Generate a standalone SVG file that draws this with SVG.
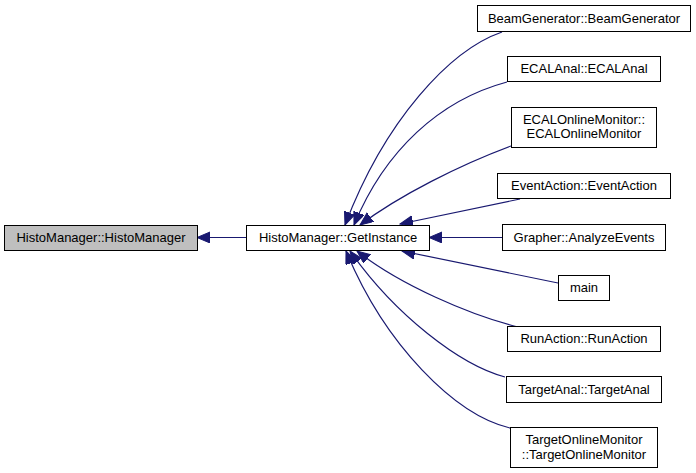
<svg xmlns="http://www.w3.org/2000/svg" width="696" height="473" viewBox="0 0 696 473">
<style>
.box{fill:#fff;stroke:#000;stroke-width:1}
.hl{fill:#bfbfbf}
text{font-family:"Liberation Sans",Arial,sans-serif;font-size:13px;text-anchor:middle;fill:#000}
.e{fill:none;stroke:#191970;stroke-width:1.2}
</style>
<defs>
<marker id="ah" markerUnits="userSpaceOnUse" markerWidth="14" markerHeight="12" refX="13" refY="5.5" orient="auto">
<polygon points="0,0 13,5.5 0,11" fill="#191970" stroke="#191970"/>
</marker>
</defs>
<g id="edges">
<path class="e" marker-end="url(#ah)" d="M246,237.5 L197,237.5"/>
<path class="e" marker-end="url(#ah)" d="M502,32 C450,50 385,120 345,225"/>
<path class="e" marker-end="url(#ah)" d="M507,82 C440,100 385,150 354,225"/>
<path class="e" marker-end="url(#ah)" d="M511,146 C460,165 400,195 360,225"/>
<path class="e" marker-end="url(#ah)" d="M520,199 L400,224"/>
<path class="e" marker-end="url(#ah)" d="M502,237.5 L429,237.5"/>
<path class="e" marker-end="url(#ah)" d="M558,283 L402,251"/>
<path class="e" marker-end="url(#ah)" d="M518,327 C470,315 400,285 357,251"/>
<path class="e" marker-end="url(#ah)" d="M505,377 C460,365 395,315 350,251"/>
<path class="e" marker-end="url(#ah)" d="M510,428 C455,415 385,345 346,251"/>
</g>
<g id="n_histomanager"><rect class="box hl" x="4.5" y="225.5" width="193" height="25"/><text x="101" y="242">HistoManager::HistoManager</text></g>
<g id="n_getinstance"><rect class="box" x="246.5" y="225.5" width="183" height="25"/><text x="338" y="242">HistoManager::GetInstance</text></g>
<g id="n_beam"><rect class="box" x="477.5" y="5.5" width="213" height="26"/><text x="584" y="23">BeamGenerator::BeamGenerator</text></g>
<g id="n_ecalanal"><rect class="box" x="507.5" y="56.5" width="153" height="25"/><text x="584" y="73">ECALAnal::ECALAnal</text></g>
<g id="n_ecalonline"><rect class="box" x="511.5" y="107.5" width="145" height="40"/><text x="584" y="124">ECALOnlineMonitor::</text><text x="584" y="138">ECALOnlineMonitor</text></g>
<g id="n_eventaction"><rect class="box" x="497.5" y="173.5" width="173" height="25"/><text x="584" y="190">EventAction::EventAction</text></g>
<g id="n_grapher"><rect class="box" x="502.5" y="224.5" width="163" height="26"/><text x="584" y="242">Grapher::AnalyzeEvents</text></g>
<g id="n_main"><rect class="box" x="558.5" y="275.5" width="51" height="25"/><text x="584" y="292">main</text></g>
<g id="n_runaction"><rect class="box" x="507.5" y="326.5" width="153" height="25"/><text x="584" y="343">RunAction::RunAction</text></g>
<g id="n_targetanal"><rect class="box" x="506.5" y="376.5" width="155" height="26"/><text x="584" y="394">TargetAnal::TargetAnal</text></g>
<g id="n_targetonline"><rect class="box" x="510.5" y="427.5" width="147" height="40"/><text x="584" y="444">TargetOnlineMonitor</text><text x="584" y="459">::TargetOnlineMonitor</text></g>
</svg>
